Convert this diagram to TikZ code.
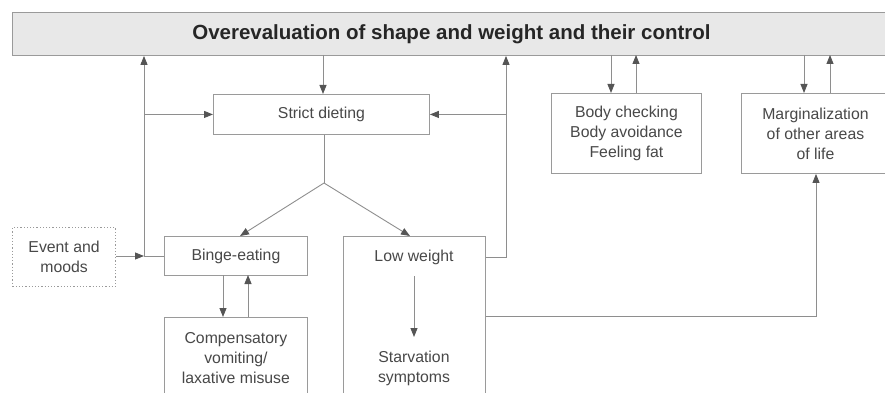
\documentclass[tikz,border=0pt]{standalone}
\usepackage{fontspec}
\setmainfont{Liberation Sans}
\usetikzlibrary{arrows.meta}
\definecolor{linec}{HTML}{8E8E8E}
\definecolor{headc}{HTML}{555555}
\definecolor{boxc}{HTML}{9A9A9A}
\definecolor{txtc}{HTML}{484848}
\definecolor{barfill}{HTML}{E8E8E8}
\tikzset{
  box/.style={draw=boxc, line width=0.9pt, fill=white, inner sep=0pt, anchor=north west,
    align=center, text=txtc, font=\fontsize{15.8}{20}\selectfont},
  lbl/.style={inner sep=0pt, align=center, text=txtc, font=\fontsize{15.8}{20}\selectfont},
  conn/.style={draw=linec, line width=0.9pt},
  arr/.style={conn, -{Triangle[length=9pt,width=7pt,color=headc]}},
}
\begin{document}
\begin{tikzpicture}[x=1pt,y=-1pt]
\useasboundingbox (0,0) rectangle (885,393);
% top bar
\node[box, fill=barfill, minimum width=878pt, minimum height=43pt, text=black!85,
  font=\fontsize{20.5}{23}\selectfont\bfseries] (top) at (12,12) {Overevaluation of shape and weight and their control};
% boxes
\node[box, minimum width=216pt, minimum height=40pt] (sd) at (213,94) {Strict dieting};
\node[box, minimum width=150pt, minimum height=80pt] (bc) at (551,93) {Body checking\\Body avoidance\\Feeling fat};
\node[box, minimum width=148pt, minimum height=80pt] (mg) at (741,93) {Marginalization\\of other areas\\of life};
\node[box, dash pattern=on 1.2pt off 2pt, line width=1.1pt, minimum width=103pt, minimum height=59pt] (ev) at (12,227) {Event and\\moods};
\node[box, minimum width=143pt, minimum height=39pt] (be) at (164,236) {Binge-eating};
\node[box, minimum width=143pt, minimum height=82pt] (cp) at (164,317) {Compensatory\\vomiting/\\laxative misuse};
\node[box, minimum width=142pt, minimum height=170pt] (lw) at (343,236) {};
\node[lbl] (lwt) at (414,257) {Low weight};
\node[lbl] (st) at (414,368) {Starvation\\symptoms};
% coordinates
\coordinate (jl) at (144,256);
\coordinate (jr) at (506,257);
\coordinate (sp) at (324,183);
\coordinate (lo) at (816,316);
% connectors
\draw[arr] (323,55) -- (323,94);
\draw[arr] (ev.east |- jl) -- (jl);
\draw[arr] (be.west |- jl) -- (jl) -- (jl |- top.south);
\draw[arr] (jl |- sd.west) -- (sd.west);
\draw[arr] (lw.east |- jr) -- (jr) -- (jr |- top.south);
\draw[arr] (jr |- sd.east) -- (sd.east);
\draw[conn] (sp |- sd.south) -- (sp);
\draw[arr] (sp) -- (240,236);
\draw[arr] (sp) -- (410,236);
\draw[arr] (223,275) -- (223,317);
\draw[arr] (248,317) -- (248,275);
\draw[arr] (414,276) -- (414,337);
\draw[arr] (lw.east |- lo) -- (lo) -- (lo |- mg.south);
\draw[arr] (611,55) -- (611,93);
\draw[arr] (636,93) -- (636,55);
\draw[arr] (804,55) -- (804,93);
\draw[arr] (830,93) -- (830,55);
\end{tikzpicture}
\end{document}
